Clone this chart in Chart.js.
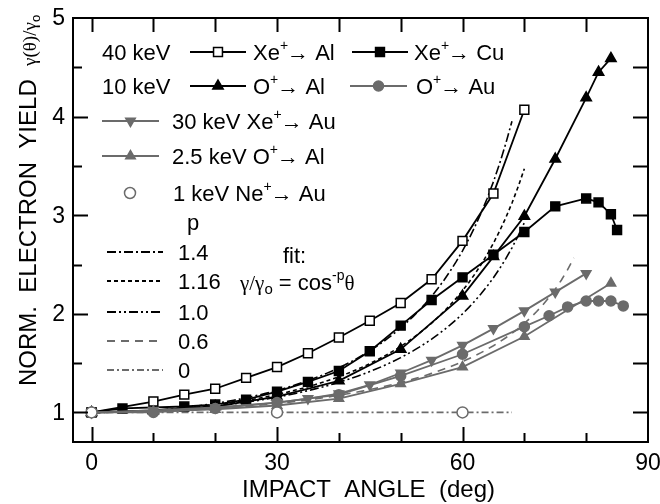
<!DOCTYPE html>
<html>
<head>
<meta charset="utf-8">
<script src="https://cdn.jsdelivr.net/npm/chart.js@4.4.1/dist/chart.umd.min.js"></script>
<style>
  html, body { margin: 0; padding: 0; background: #fff; }
  #wrap { width: 660px; height: 504px; position: relative; }
</style>
</head>
<body>
<div id="wrap"><canvas id="yieldChart" width="660" height="504"></canvas></div>
<script>
// measured yields, normalised to normal incidence
const xeAlDeg = [0, 10, 15, 20, 25, 30, 35, 40, 45, 50, 55, 60, 65, 70];
const xeAlY   = [1.0, 1.11, 1.18, 1.24, 1.35, 1.46, 1.60, 1.76, 1.93, 2.11, 2.35, 2.74, 3.22, 4.07];

const xeCuDeg = [0, 5, 15, 20, 25, 30, 35, 40, 45, 50, 55, 60, 65, 70, 75, 80, 82, 84, 85];
const xeCuY   = [1.0, 1.04, 1.06, 1.08, 1.13, 1.21, 1.31, 1.42, 1.62, 1.88, 2.14, 2.37, 2.60, 2.83, 3.09, 3.17, 3.13, 3.01, 2.85];

const oAlDeg = [0, 10, 20, 30, 40, 50, 60, 65, 70, 75, 80, 82, 84];
const oAlY   = [1.0, 1.02, 1.06, 1.16, 1.32, 1.64, 2.18, 2.58, 2.99, 3.57, 4.19, 4.45, 4.59];

const oAuDeg = [0, 10, 20, 30, 40, 50, 60, 70, 74, 77, 80, 82, 84, 86];
const oAuY   = [1.0, 1.0, 1.04, 1.10, 1.18, 1.37, 1.59, 1.87, 1.98, 2.07, 2.13, 2.13, 2.13, 2.08];

const xeAuDeg = [0, 10, 20, 30, 35, 40, 45, 50, 55, 60, 65, 70, 75, 80];
const xeAuY   = [1.0, 1.02, 1.05, 1.10, 1.14, 1.19, 1.28, 1.40, 1.53, 1.68, 1.85, 2.03, 2.22, 2.41];

const oAl25Deg = [0, 10, 20, 30, 40, 50, 60, 70, 84];
const oAl25Y   = [1.0, 1.01, 1.03, 1.07, 1.14, 1.29, 1.46, 1.77, 2.31];

const neAuDeg = [0, 30, 60];
const neAuY   = [1.0, 1.0, 1.0];

// fit curves gamma/gamma0 = cos^-p(theta)
const fitP   = [1.4, 1.16, 1.0, 0.6, 0];
const fitEnd = [68, 70, 70, 78, 68];

const xTickLabels = ['0', '30', '60', '90'];
const yTickLabels = ['1', '2', '3', '4', '5'];

const BLACK = '#000000';
const GRAY = '#6b6b6b';
const SANS = '"Liberation Sans", Arial, sans-serif';
const SERIF = '"Liberation Serif", "Times New Roman", serif';

const fitDash = [
  [9, 3, 2, 3],
  [4, 3],
  [9, 3, 2, 3, 2, 3],
  [8, 6],
  [7, 3, 2, 3]
];
const fitColor = [BLACK, BLACK, BLACK, GRAY, GRAY];

function pts(xs, ys) {
  return xs.map((x, i) => ({ x: x, y: ys[i] }));
}

function fitCurve(p, end) {
  const out = [];
  for (let a = 0; a <= end; a += 1) {
    out.push({ x: a, y: Math.pow(Math.cos(a * Math.PI / 180), -p) });
  }
  return out;
}

const fitSets = fitP.map((p, i) => ({
  label: 'p=' + p,
  data: fitCurve(p, fitEnd[i]),
  showLine: true,
  borderColor: fitColor[i],
  borderWidth: 1.6,
  borderDash: fitDash[i],
  pointRadius: 0,
  order: 5
}));

function series(label, xs, ys, color, style, radius, fill, extra) {
  return Object.assign({
    label: label,
    data: pts(xs, ys),
    showLine: true,
    borderColor: color,
    borderWidth: 1.8,
    pointStyle: style,
    pointRadius: radius,
    pointHoverRadius: radius,
    pointBackgroundColor: fill,
    pointBorderColor: color,
    pointBorderWidth: 1.5,
    tension: 0
  }, extra || {});
}

const datasets = [
  series('O+ Au', oAuDeg, oAuY, GRAY, 'circle', 5, GRAY, { order: 1 }),
  series('30 keV Xe+ Au', xeAuDeg, xeAuY, GRAY, 'triangle', 5.5, GRAY, { rotation: 180, order: 1 }),
  series('2.5 keV O+ Al', oAl25Deg, oAl25Y, GRAY, 'triangle', 5.5, GRAY, { order: 1 }),
  series('1 keV Ne+ Au', neAuDeg, neAuY, GRAY, 'circle', 5.5, '#ffffff', { showLine: false, order: 0 }),
  series('Xe+ Al', xeAlDeg, xeAlY, BLACK, 'rect', 6.3, '#ffffff', { order: 2 }),
  series('Xe+ Cu', xeCuDeg, xeCuY, BLACK, 'rect', 6.3, BLACK, { order: 2 }),
  series('O+ Al', oAlDeg, oAlY, BLACK, 'triangle', 6, BLACK, { order: 2 })
].concat(fitSets);

// draw a run of text pieces (font, vertical shift) left to right
function drawRuns(ctx, x, y, runs, color) {
  ctx.save();
  ctx.fillStyle = color || BLACK;
  ctx.textBaseline = 'alphabetic';
  ctx.textAlign = 'left';
  runs.forEach(r => {
    ctx.font = r.f;
    ctx.fillText(r.t, x + (r.dx || 0), y + (r.dy || 0));
    x += ctx.measureText(r.t).width + (r.dx || 0);
  });
  ctx.restore();
  return x;
}

const F = '22px ' + SANS;
const SUP = '14px ' + SANS;

function ion(name, target) {
  return [
    { t: name, f: F },
    { t: '+', f: SUP, dy: -10 },
    { t: '\u2192', f: F, dx: -1 },
    { t: ' ' + target, f: F }
  ];
}

function legendLine(ctx, x1, x2, y, color, dash, marker) {
  ctx.save();
  ctx.strokeStyle = color;
  ctx.lineWidth = dash ? 1.8 : 2;
  ctx.setLineDash(dash || []);
  ctx.beginPath();
  ctx.moveTo(x1, y);
  ctx.lineTo(x2, y);
  ctx.stroke();
  ctx.restore();
  if (marker) legendMarker(ctx, (x1 + x2) / 2, y, marker);
}

function legendMarker(ctx, x, y, m) {
  ctx.save();
  ctx.fillStyle = m.fill;
  ctx.strokeStyle = m.color;
  ctx.lineWidth = 1.5;
  Chart.helpers.drawPoint(ctx, { pointStyle: m.style, radius: m.radius, rotation: m.rotation || 0, borderWidth: 1.5 }, x, y);
  ctx.restore();
}

const framePlugin = {
  id: 'frame',
  afterDraw(chart) {
    const ctx = chart.ctx;
    const a = chart.chartArea;
    const xs = chart.scales.x;
    const ys = chart.scales.y;

    ctx.save();
    ctx.strokeStyle = BLACK;
    ctx.lineWidth = 2;
    ctx.strokeRect(a.left, a.top, a.right - a.left, a.bottom - a.top);

    ctx.beginPath();
    // bottom ticks
    for (let v = 0; v <= 80; v += 10) {
      const px = Math.round(xs.getPixelForValue(v)) + 0.5;
      const len = v % 30 === 0 ? 15 : 9;
      ctx.moveTo(px, a.bottom);
      ctx.lineTo(px, a.bottom - len);
      // top ticks
      ctx.moveTo(px, a.top);
      ctx.lineTo(px, a.top + 14);
    }
    // left and right ticks
    for (let v = 1; v <= 4.5; v += 0.5) {
      const py = Math.round(ys.getPixelForValue(v)) + 0.5;
      const len = Number.isInteger(v) ? 15 : 9;
      ctx.moveTo(a.left, py);
      ctx.lineTo(a.left + len, py);
      ctx.moveTo(a.right, py);
      ctx.lineTo(a.right - 15, py);
    }
    ctx.stroke();

    // tick labels
    ctx.fillStyle = BLACK;
    ctx.font = '23px ' + SANS;
    ctx.textAlign = 'center';
    ctx.textBaseline = 'middle';
    xTickLabels.forEach(t => {
      ctx.fillText(t, xs.getPixelForValue(Number(t)), 464);
    });
    ctx.textAlign = 'right';
    yTickLabels.forEach(t => {
      ctx.fillText(t, 65, ys.getPixelForValue(Number(t)) + 1);
    });

    // axis titles
    ctx.font = '24px ' + SANS;
    ctx.textAlign = 'center';
    ctx.fillText('IMPACT  ANGLE  (deg)', (a.left + a.right) / 2 + 8, 490);

    ctx.translate(36, 386);
    ctx.rotate(-Math.PI / 2);
    drawRuns(ctx, 0, 0, [
      { t: 'NORM.  ELECTRON  YIELD  ', f: '24px ' + SANS },
      { t: '\u03b3(\u03b8)/\u03b3', f: '19px ' + SERIF },
      { t: 'o', f: '13px ' + SANS, dy: 4 }
    ]);
    ctx.restore();

    // legend
    drawRuns(ctx, 102, 60, [{ t: '40 keV', f: F }]);
    legendLine(ctx, 190, 246, 52, BLACK, null, { style: 'rect', radius: 6.3, fill: '#fff', color: BLACK });
    drawRuns(ctx, 253, 60, ion('Xe', 'Al'));
    legendLine(ctx, 352, 408, 52, BLACK, null, { style: 'rect', radius: 6.3, fill: BLACK, color: BLACK });
    drawRuns(ctx, 414, 60, ion('Xe', 'Cu'));

    drawRuns(ctx, 102, 94, [{ t: '10 keV', f: F }]);
    legendLine(ctx, 190, 246, 86, BLACK, null, { style: 'triangle', radius: 6, fill: BLACK, color: BLACK });
    drawRuns(ctx, 253, 94, ion('O', 'Al'));
    legendLine(ctx, 350, 407, 86, GRAY, null, { style: 'circle', radius: 5, fill: GRAY, color: GRAY });
    drawRuns(ctx, 416, 94, ion('O', 'Au'));

    legendLine(ctx, 102, 159, 121, GRAY, null, { style: 'triangle', radius: 5.5, rotation: 180, fill: GRAY, color: GRAY });
    drawRuns(ctx, 172, 129, [{ t: '30 keV ', f: F }].concat(ion('Xe', 'Au')));
    legendLine(ctx, 102, 159, 156, GRAY, null, { style: 'triangle', radius: 5.5, fill: GRAY, color: GRAY });
    drawRuns(ctx, 172, 164, [{ t: '2.5 keV ', f: F }].concat(ion('O', 'Al')));
    legendMarker(ctx, 130, 193, { style: 'circle', radius: 5.5, fill: '#fff', color: GRAY });
    drawRuns(ctx, 173, 201, [{ t: '1 keV ', f: F }].concat(ion('Ne', 'Au')));

    drawRuns(ctx, 187, 230, [{ t: 'p', f: F }]);
    const rowsY = [252, 281, 312, 341, 370];
    fitP.forEach((p, i) => {
      legendLine(ctx, 107, 163, rowsY[i], fitColor[i], fitDash[i]);
      drawRuns(ctx, 178, rowsY[i] + 8, [{ t: String(p === 1 ? '1.0' : p), f: F }]);
    });

    drawRuns(ctx, 283, 263, [{ t: 'fit:', f: F }]);
    drawRuns(ctx, 240, 290, [
      { t: '\u03b3/\u03b3', f: '21px ' + SERIF },
      { t: 'o', f: '15px ' + SANS, dy: 4 },
      { t: ' = cos', f: F },
      { t: '-p', f: SUP, dy: -10 },
      { t: '\u03b8', f: '21px ' + SERIF }
    ]);
  }
};

new Chart(document.getElementById('yieldChart'), {
  type: 'scatter',
  data: { datasets: datasets },
  options: {
    responsive: false,
    animation: false,
    layout: { padding: { left: 73, right: 12, top: 18, bottom: 62 } },
    plugins: { legend: { display: false }, tooltip: { enabled: false } },
    scales: {
      x: { type: 'linear', min: -3, max: 90, display: false },
      y: { type: 'linear', min: 0.7, max: 5, display: false }
    }
  },
  plugins: [framePlugin]
});
</script>
</body>
</html>
